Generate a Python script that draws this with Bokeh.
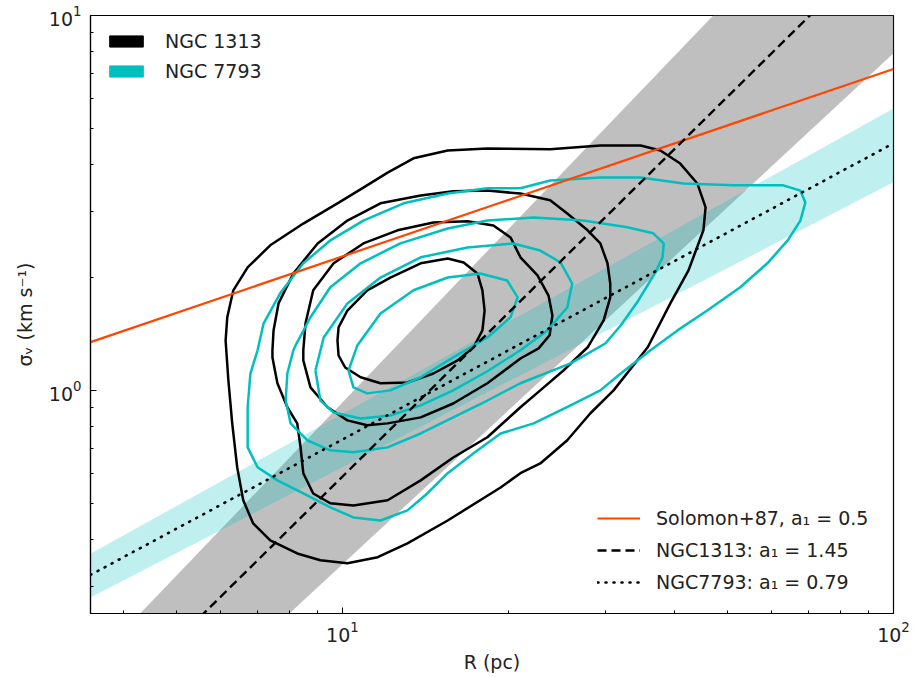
import numpy as np
from bokeh.plotting import figure
from bokeh.models import Range1d, FixedTicker, Legend, LegendItem
from bokeh.embed import file_html
from bokeh.resources import INLINE

# ---------------- axis ticks ----------------
x_major = [10, 100]
x_minor = [4, 5, 6, 7, 8, 9, 20, 30, 40, 50, 60, 70, 80, 90]
y_major = [1, 10]
y_minor = [0.3, 0.4, 0.5, 0.6, 0.7, 0.8, 0.9, 2, 3, 4, 5, 6, 7, 8, 9]
R_lim = [3.49, 100.0]
sig_lim = [0.254, 10.0]

# ---------------- fits: log10(sigma) = a + b*log10(R) ----------------
solomon_fit = [np.log10(0.72), 0.5]
ngc1313_fit = [-1.68, 1.45]
ngc1313_band_hi = [-1.566, 1.534]
ngc1313_band_lo = [-1.827, 1.363]
ngc7793_fit = [-0.921, 0.79]
ngc7793_band_hi = [-0.878, 0.815]
ngc7793_band_lo = [-0.965, 0.760]

# ---------------- KDE contours (log10 R, log10 sigma) ----------------
n1313_lvl1_logR = [0.788, 0.791, 0.802, 0.828, 0.869, 0.929, 0.991, 1.038, 1.082, 1.129, 1.191, 1.263, 1.377, 1.468,
                   1.541, 1.577, 1.613, 1.644, 1.659, 1.655, 1.628, 1.595, 1.554, 1.492, 1.450, 1.408, 1.359, 1.323,
                   1.287, 1.191, 1.118, 1.064, 1.009, 0.960, 0.918, 0.869, 0.838, 0.820, 0.809, 0.800, 0.793]
n1313_lvl1_logS = [0.133, 0.195, 0.267, 0.328, 0.387, 0.445, 0.499, 0.541, 0.581, 0.619, 0.640, 0.645, 0.643, 0.653,
                   0.653, 0.640, 0.605, 0.552, 0.488, 0.427, 0.320, 0.232, 0.115, 0.000, -0.061, -0.133, -0.195, -0.221,
                   -0.259, -0.347, -0.408, -0.445, -0.461, -0.453, -0.435, -0.400, -0.355, -0.293, -0.205, -0.088, 0.027]

n1313_lvl2_logR = [0.873, 0.875, 0.884, 0.911, 0.955, 1.009, 1.069, 1.142, 1.201, 1.263, 1.323, 1.377, 1.408, 1.445,
                   1.468, 1.481, 1.486, 1.486, 1.474, 1.445, 1.401, 1.359, 1.323, 1.263, 1.201, 1.142, 1.082, 1.020,
                   0.978, 0.947, 0.929, 0.924, 0.918, 0.900, 0.882, 0.873]
n1313_lvl2_logS = [0.107, 0.160, 0.232, 0.312, 0.392, 0.453, 0.499, 0.520, 0.531, 0.533, 0.525, 0.507, 0.472, 0.427,
                   0.392, 0.339, 0.285, 0.248, 0.187, 0.115, 0.053, 0.000, -0.045, -0.125, -0.179, -0.240, -0.293, -0.307,
                   -0.301, -0.275, -0.221, -0.152, -0.088, -0.045, 0.019, 0.088]

n1313_lvl3_logR = [0.929, 0.933, 0.947, 0.984, 1.038, 1.100, 1.165, 1.227, 1.274, 1.305, 1.323, 1.354, 1.374, 1.381,
                   1.376, 1.356, 1.323, 1.263, 1.201, 1.142, 1.082, 1.045, 1.009, 0.973, 0.942, 0.929]
n1313_lvl3_logS = [0.107, 0.179, 0.267, 0.339, 0.392, 0.427, 0.448, 0.451, 0.440, 0.408, 0.355, 0.307, 0.253, 0.200,
                   0.147, 0.112, 0.085, 0.019, -0.035, -0.072, -0.088, -0.093, -0.080, -0.045, 0.008, 0.080]

n1313_lvl4_logR = [0.991, 0.993, 1.009, 1.045, 1.087, 1.142, 1.191, 1.220, 1.245, 1.254, 1.258, 1.254, 1.238, 1.209,
                   1.165, 1.118, 1.069, 1.033, 1.005, 0.993]
n1313_lvl4_logS = [0.133, 0.168, 0.213, 0.267, 0.301, 0.339, 0.352, 0.341, 0.312, 0.267, 0.213, 0.160, 0.115, 0.080,
                   0.045, 0.021, 0.019, 0.035, 0.061, 0.093]

n7793_lvl1_logR = [0.846, 0.857, 0.887, 0.929, 0.978, 1.038, 1.111, 1.191, 1.263, 1.323, 1.377, 1.468, 1.541, 1.619,
                   1.710, 1.800, 1.831, 1.840, 1.831, 1.808, 1.771, 1.722, 1.662, 1.608, 1.559, 1.505, 1.468, 1.414,
                   1.347, 1.287, 1.238, 1.191, 1.154, 1.118, 1.069, 1.020, 0.978, 0.929, 0.882, 0.846, 0.828, 0.828,
                   0.833]
n7793_lvl1_logS = [0.107, 0.179, 0.259, 0.339, 0.400, 0.453, 0.499, 0.525, 0.539, 0.539, 0.560, 0.568, 0.568, 0.552,
                   0.547, 0.547, 0.533, 0.501, 0.453, 0.400, 0.339, 0.275, 0.213, 0.160, 0.107, 0.045, 0.000, -0.040,
                   -0.088, -0.115, -0.168, -0.221, -0.275, -0.320, -0.347, -0.339, -0.312, -0.275, -0.240, -0.205,
                   -0.152, -0.045, 0.045]

n7793_lvl2_logR = [0.911, 0.915, 0.942, 0.978, 1.033, 1.105, 1.191, 1.263, 1.347, 1.437, 1.517, 1.564, 1.583, 1.581,
                   1.568, 1.537, 1.505, 1.477, 1.414, 1.323, 1.263, 1.201, 1.142, 1.082, 1.020, 0.978, 0.936, 0.906,
                   0.897, 0.900]
n7793_lvl2_logS = [0.107, 0.120, 0.195, 0.275, 0.339, 0.392, 0.432, 0.453, 0.461, 0.453, 0.435, 0.419, 0.392, 0.355,
                   0.315, 0.240, 0.173, 0.125, 0.072, 0.019, -0.027, -0.072, -0.115, -0.152, -0.165, -0.160, -0.133,
                   -0.088, -0.027, 0.045]

n7793_lvl3_logR = [0.951, 0.966, 1.009, 1.069, 1.142, 1.227, 1.310, 1.359, 1.396, 1.417, 1.408, 1.372, 1.323, 1.263,
                   1.201, 1.142, 1.087, 1.033, 0.984, 0.960]
n7793_lvl3_logS = [0.053, 0.141, 0.232, 0.301, 0.355, 0.381, 0.392, 0.373, 0.341, 0.285, 0.221, 0.160, 0.107, 0.051,
                   0.000, -0.040, -0.067, -0.075, -0.059, -0.027]

n7793_lvl4_logR = [1.011, 1.027, 1.069, 1.129, 1.191, 1.250, 1.299, 1.318, 1.305, 1.263, 1.201, 1.142, 1.087, 1.045,
                   1.020]
n7793_lvl4_logS = [0.053, 0.120, 0.205, 0.267, 0.301, 0.312, 0.293, 0.248, 0.195, 0.141, 0.088, 0.035, 0.000, -0.008,
                   0.008]

galaxy_names = ["NGC 1313", "NGC 7793"]
fit_labels = ["Solomon+87, a\u2081 = 0.5", "NGC1313: a\u2081 = 1.45", "NGC7793: a\u2081 = 0.79"]

FONT = "DejaVu Sans"
BLACK = "#000000"
CYAN = "#00BFBF"
ORANGE = "#FF4500"

p = figure(x_axis_type="log", y_axis_type="log",
           x_range=Range1d(*R_lim), y_range=Range1d(*sig_lim),
           frame_width=803, frame_height=598,
           min_border_left=90, min_border_top=15, min_border_right=18, min_border_bottom=58,
           output_backend="svg", toolbar_location=None)
p.xgrid.visible = False
p.ygrid.visible = False
p.outline_line_color = "black"
p.outline_line_width = 1.2
p.background_fill_color = "white"
p.border_fill_color = "white"

p.xaxis.ticker = FixedTicker(ticks=x_major, minor_ticks=x_minor)
p.yaxis.ticker = FixedTicker(ticks=y_major, minor_ticks=y_minor)
for ax in (p.xaxis[0], p.yaxis[0]):
    ax.major_tick_in = 6
    ax.major_tick_out = 0
    ax.minor_tick_in = 3
    ax.minor_tick_out = 0
    ax.axis_line_color = "black"
    ax.axis_line_width = 1.2
    ax.major_tick_line_color = "black"
    ax.minor_tick_line_color = "black"
    ax.major_label_text_font = FONT
    ax.major_label_text_font_size = "19px"
    ax.major_label_text_color = "#222222"
    ax.axis_label_text_font = FONT
    ax.axis_label_text_font_size = "19px"
    ax.axis_label_text_font_style = "normal"
    ax.axis_label_text_color = "#222222"
p.xaxis.axis_label = "R (pc)"
p.yaxis.axis_label = "\u03c3\u1d65 (km s\u207b\u00b9)"
p.xaxis.major_label_standoff = 7
p.yaxis.major_label_standoff = 9
p.xaxis.axis_label_standoff = 6
p.yaxis.axis_label_standoff = 10


def fit_line(fit, R):
    R = np.asarray(R, dtype=float)
    return 10 ** (fit[0] + fit[1] * np.log10(R))


Rb = np.array(R_lim)
# bands
p.varea(x=Rb, y1=fit_line(ngc1313_band_lo, Rb), y2=fit_line(ngc1313_band_hi, Rb),
        fill_color="#808080", fill_alpha=0.5)
p.varea(x=Rb, y1=fit_line(ngc7793_band_lo, Rb), y2=fit_line(ngc7793_band_hi, Rb),
        fill_color=CYAN, fill_alpha=0.25)

# contours
def closed(a):
    return 10 ** np.array(list(a) + [a[0]])

for lr, ls in [(n1313_lvl1_logR, n1313_lvl1_logS), (n1313_lvl2_logR, n1313_lvl2_logS),
               (n1313_lvl3_logR, n1313_lvl3_logS), (n1313_lvl4_logR, n1313_lvl4_logS)]:
    p.line(closed(lr), closed(ls), line_color=BLACK, line_width=2.5, line_join="round")
for lr, ls in [(n7793_lvl1_logR, n7793_lvl1_logS), (n7793_lvl2_logR, n7793_lvl2_logS),
               (n7793_lvl3_logR, n7793_lvl3_logS), (n7793_lvl4_logR, n7793_lvl4_logS)]:
    p.line(closed(lr), closed(ls), line_color=CYAN, line_width=2.5, line_join="round")

# fit lines
Rl = np.array(R_lim)
r_sol = p.line(Rl, fit_line(solomon_fit, Rl), line_color=ORANGE, line_width=2.2)
r_1313 = p.line(Rl, fit_line(ngc1313_fit, Rl), line_color=BLACK, line_width=2.4, line_dash="9 5")
r_7793 = p.line(Rl, fit_line(ngc7793_fit, Rl), line_color=BLACK, line_width=2.6, line_dash="1 7",
                line_cap="round")

# legend patches (galaxies) - no data of their own, only shown in the legend
g1 = p.quad(left=[np.nan], right=[np.nan], top=[np.nan], bottom=[np.nan], fill_color=BLACK, line_color=BLACK)
g2 = p.quad(left=[np.nan], right=[np.nan], top=[np.nan], bottom=[np.nan], fill_color=CYAN, line_color=CYAN)

leg1 = Legend(items=[LegendItem(label=galaxy_names[0], renderers=[g1], index=0),
                     LegendItem(label=galaxy_names[1], renderers=[g2], index=0)],
              location=(15, 531), margin=0, padding=10, spacing=8,
              glyph_width=42, glyph_height=14, label_height=22, label_standoff=18,
              label_text_font=FONT, label_text_font_size="19px", label_text_color="#222222",
              border_line_color=None, background_fill_alpha=0)
leg2 = Legend(items=[LegendItem(label=fit_labels[0], renderers=[r_sol]),
                     LegendItem(label=fit_labels[1], renderers=[r_1313]),
                     LegendItem(label=fit_labels[2], renderers=[r_7793])],
              location=(507, 20), margin=0, padding=10, spacing=10,
              glyph_width=43, glyph_height=14, label_height=22, label_standoff=16,
              label_text_font=FONT, label_text_font_size="19px", label_text_color="#222222",
              border_line_color=None, background_fill_alpha=0)
p.add_layout(leg1)
p.add_layout(leg2)

open("out.html", "w").write(file_html(p, INLINE))
